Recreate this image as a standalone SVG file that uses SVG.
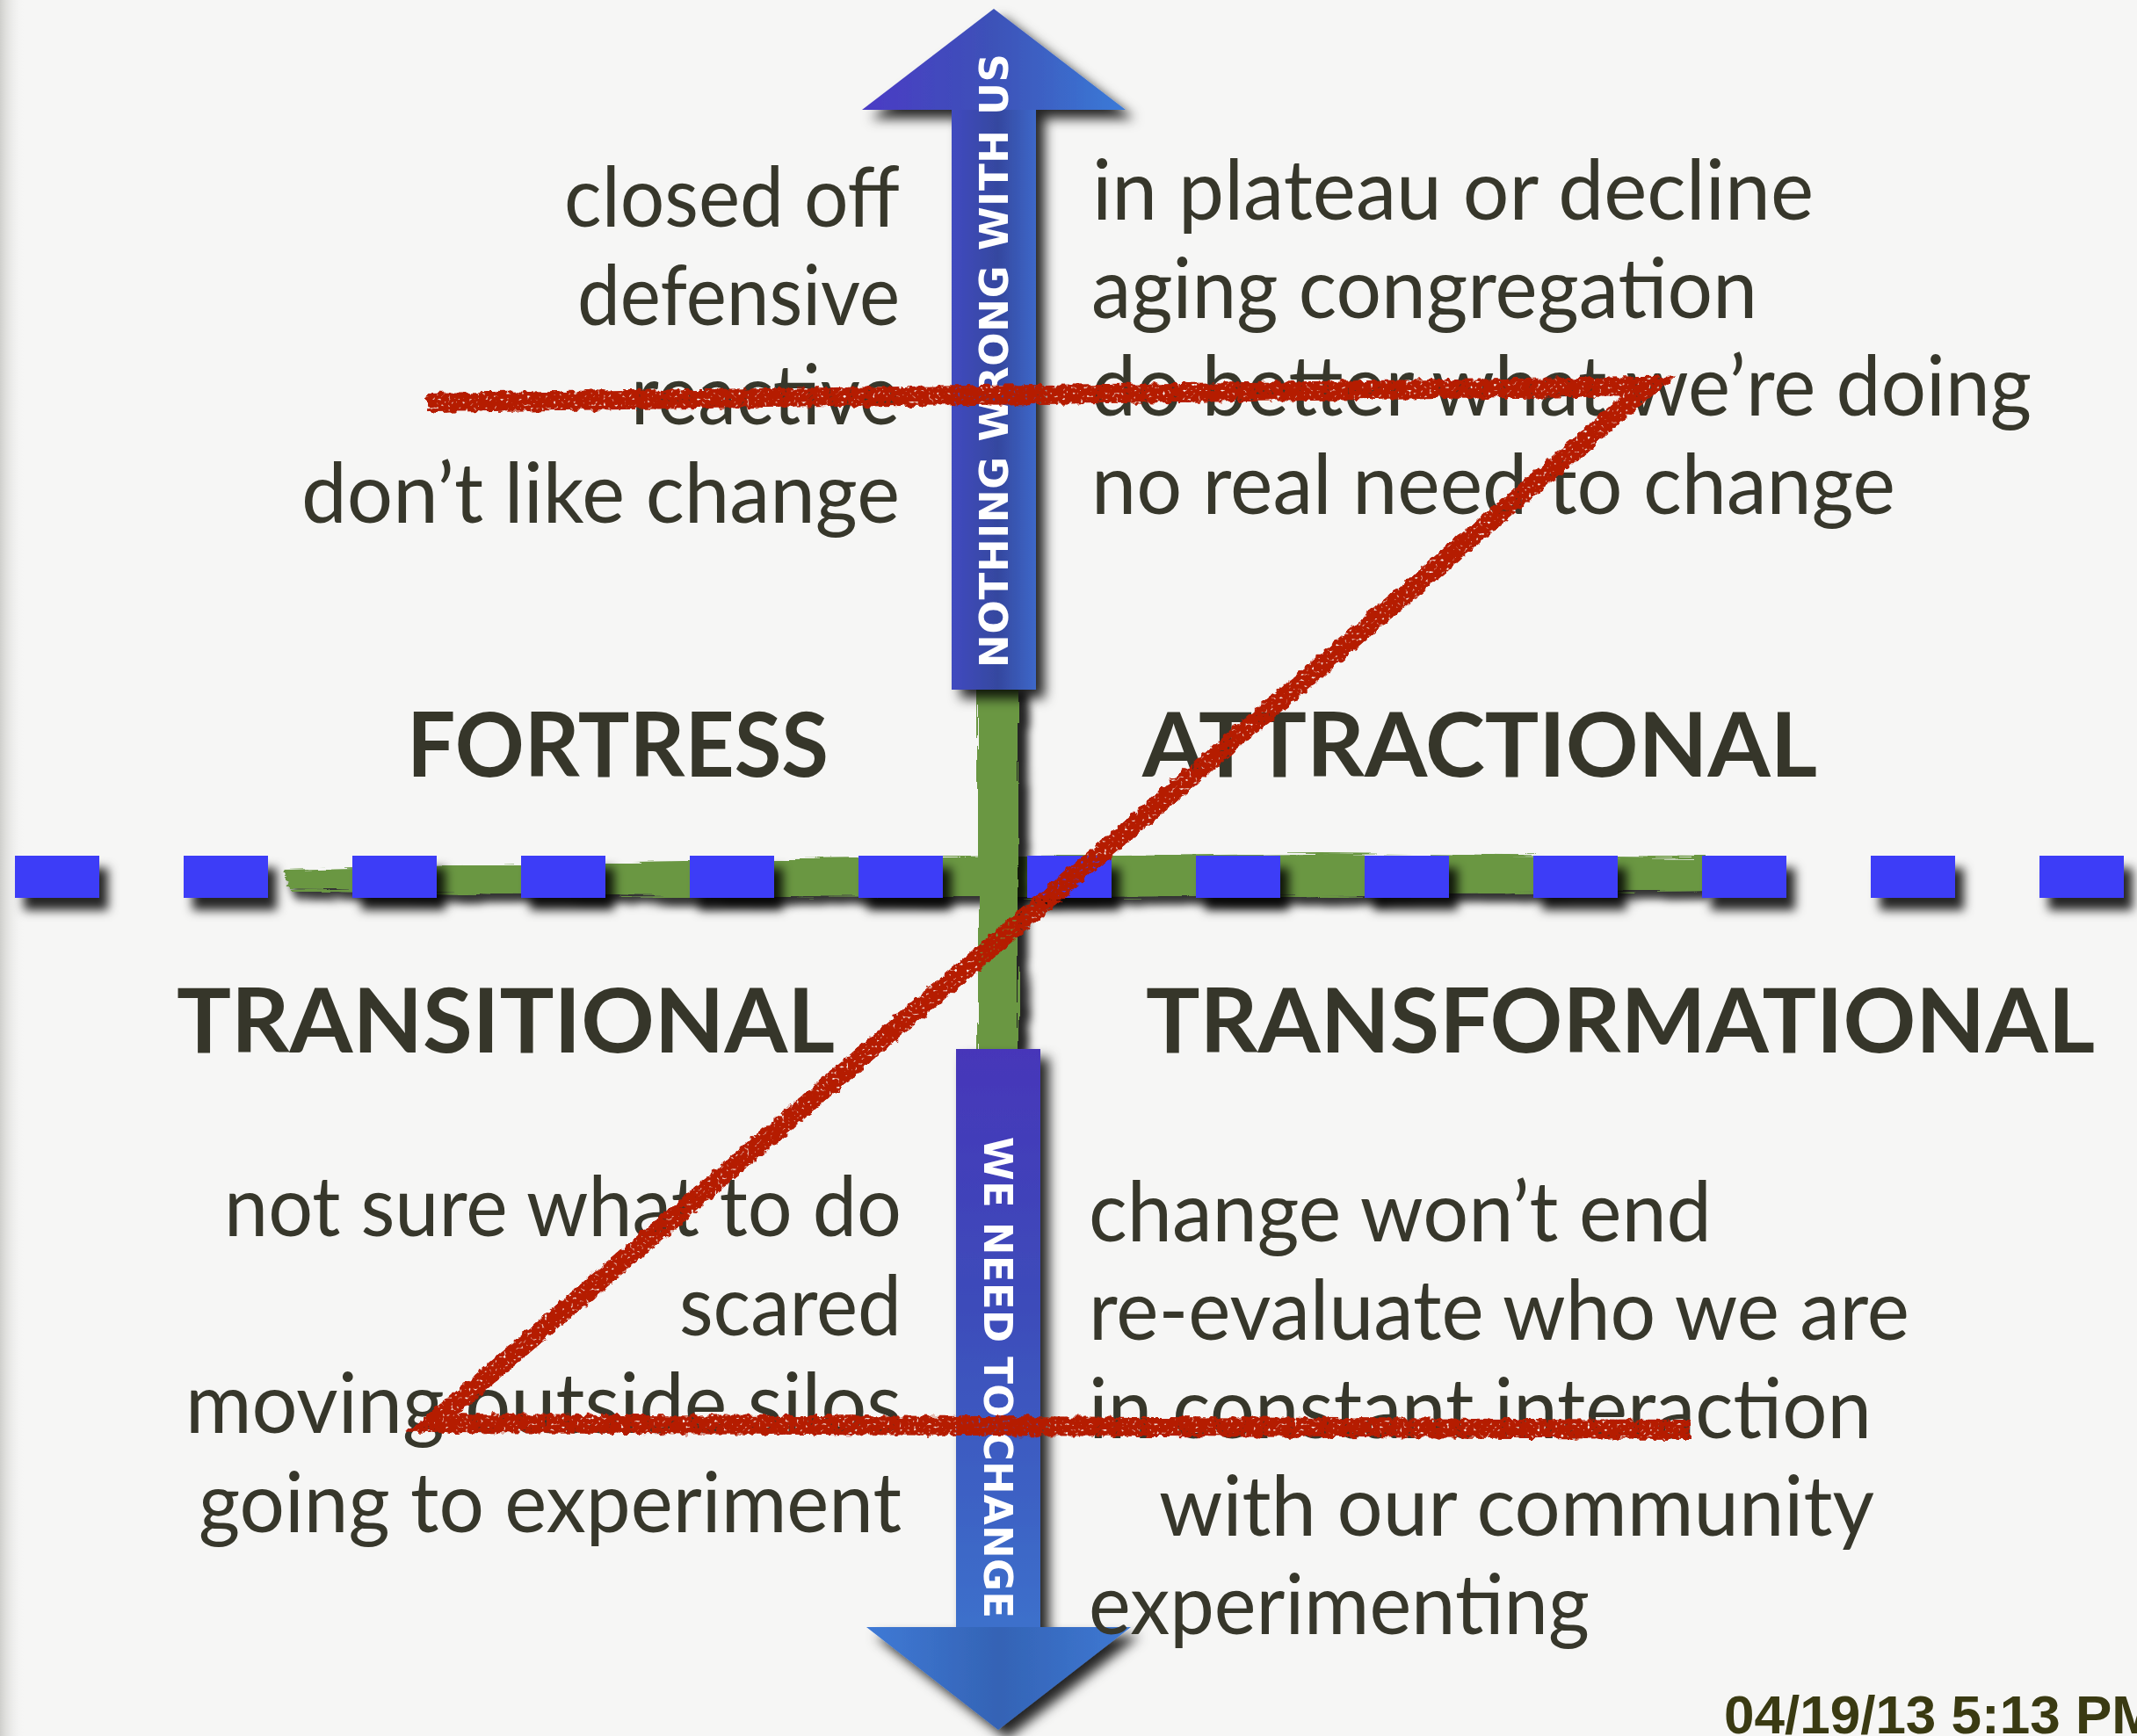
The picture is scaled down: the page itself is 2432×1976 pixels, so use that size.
<svg xmlns="http://www.w3.org/2000/svg" width="2432" height="1976" viewBox="0 0 2432 1976">
  <style>
    .body { font-family: Lato, "Open Sans", sans-serif; font-size: 95px; fill: #37372b; }
    .head { font-family: Lato, "Open Sans", sans-serif; font-size: 101px; font-weight: 700; fill: #36362a; }
    .arrowtxt { font-family: "DejaVu Sans", sans-serif; font-size: 45px; font-weight: 700; fill: #ffffff; }
    .dash { fill: #3e3cf7; }
    .green { fill: #6a9743; }
    .red { fill: none; stroke: #b51a04; stroke-width: 22; stroke-linejoin: miter; stroke-miterlimit: 6; }
    .stamp { font-family: "Liberation Sans", Arial, sans-serif; font-size: 62px; font-weight: 700; fill: #3a3a12; }
  </style>
  <defs>
    <linearGradient id="edge" x1="0" y1="0" x2="1" y2="0">
      <stop offset="0" stop-color="#cfcfcc"/>
      <stop offset="1" stop-color="#f6f6f5" stop-opacity="0"/>
    </linearGradient>
    <linearGradient id="upHead" x1="981" y1="0" x2="1281" y2="0" gradientUnits="userSpaceOnUse">
      <stop offset="0" stop-color="#4a3bc5"/>
      <stop offset="0.5" stop-color="#3d52b8"/>
      <stop offset="1" stop-color="#3a7bd8"/>
    </linearGradient>
    <linearGradient id="upShaft" x1="1083" y1="0" x2="1179" y2="0" gradientUnits="userSpaceOnUse">
      <stop offset="0" stop-color="#414bc0"/>
      <stop offset="0.55" stop-color="#35479f"/>
      <stop offset="1" stop-color="#3d68c9"/>
    </linearGradient>
    <linearGradient id="downShaft" x1="0" y1="1194" x2="0" y2="1852" gradientUnits="userSpaceOnUse">
      <stop offset="0" stop-color="#4636b9"/>
      <stop offset="0.45" stop-color="#3d4cba"/>
      <stop offset="1" stop-color="#3c70cb"/>
    </linearGradient>
    <linearGradient id="downHead" x1="986" y1="0" x2="1287" y2="0" gradientUnits="userSpaceOnUse">
      <stop offset="0" stop-color="#3f7ad6"/>
      <stop offset="0.5" stop-color="#3463b5"/>
      <stop offset="1" stop-color="#3e79d4"/>
    </linearGradient>
    <filter id="arrowShadow" x="-30%" y="-10%" width="160%" height="120%">
      <feDropShadow dx="10" dy="10" stdDeviation="7" flood-color="#000" flood-opacity="0.85"/>
    </filter>
    <filter id="dashShadow" x="-30%" y="-40%" width="160%" height="200%">
      <feDropShadow dx="10" dy="14" stdDeviation="6" flood-color="#000" flood-opacity="0.85"/>
    </filter>
    <filter id="roughH" filterUnits="userSpaceOnUse" x="0" y="900" width="2432" height="200">
      <feTurbulence type="fractalNoise" baseFrequency="0.012 0.3" numOctaves="3" seed="4" result="n"/>
      <feDisplacementMap in="SourceGraphic" in2="n" scale="10" xChannelSelector="R" yChannelSelector="G" result="d"/>
      <feGaussianBlur in="d" stdDeviation="5" result="b"/>
      <feOffset in="b" dx="6" dy="10" result="o"/>
      <feFlood flood-color="#000" flood-opacity="0.8"/>
      <feComposite in2="o" operator="in" result="s"/>
      <feMerge><feMergeNode in="s"/><feMergeNode in="d"/></feMerge>
    </filter>
    <filter id="roughV" filterUnits="userSpaceOnUse" x="1000" y="700" width="300" height="600">
      <feTurbulence type="fractalNoise" baseFrequency="0.3 0.012" numOctaves="3" seed="9" result="n"/>
      <feDisplacementMap in="SourceGraphic" in2="n" scale="8" xChannelSelector="R" yChannelSelector="G" result="d"/>
      <feGaussianBlur in="d" stdDeviation="5" result="b"/>
      <feOffset in="b" dx="12" dy="6" result="o"/>
      <feFlood flood-color="#000" flood-opacity="0.85"/>
      <feComposite in2="o" operator="in" result="s"/>
      <feMerge><feMergeNode in="s"/><feMergeNode in="d"/></feMerge>
    </filter>
    <filter id="crayon" filterUnits="userSpaceOnUse" x="0" y="0" width="2432" height="1976">
      <feTurbulence type="fractalNoise" baseFrequency="0.12 0.12" numOctaves="2" seed="3" result="n"/>
      <feDisplacementMap in="SourceGraphic" in2="n" scale="9" xChannelSelector="R" yChannelSelector="G" result="d"/>
      <feTurbulence type="fractalNoise" baseFrequency="0.3" numOctaves="1" seed="11" result="n2"/>
      <feColorMatrix in="n2" type="matrix" values="0 0 0 0 0  0 0 0 0 0  0 0 0 0 0  7 0 0 0 -1.6" result="m"/>
      <feComposite in="d" in2="m" operator="in"/>
    </filter>
  </defs>

  <g id="background">
    <rect x="0" y="0" width="2432" height="1976" fill="#f6f6f5"/>
    <rect x="0" y="0" width="28" height="1976" fill="url(#edge)"/>
  </g>

  <g id="connectors">
    <g id="green-cross" class="green">
      <path filter="url(#roughH)" d="M 322 990 L 600 983 L 900 978 L 1160 975 L 1500 972 L 1940 976 L 1940 1014 L 1500 1020 L 1160 1022 L 900 1021 L 600 1018 L 330 1013 Z"/>
      <rect filter="url(#roughV)" x="1113" y="780" width="46" height="416"/>
    </g>
    <g id="dashed-axis" class="dash" filter="url(#dashShadow)">
      <rect x="17" y="974" width="96" height="48"/>
      <rect x="209" y="974" width="96" height="48"/>
      <rect x="401" y="974" width="96" height="48"/>
      <rect x="593" y="974" width="96" height="48"/>
      <rect x="785" y="974" width="96" height="48"/>
      <rect x="977" y="974" width="96" height="48"/>
      <rect x="1169" y="974" width="96" height="48"/>
      <rect x="1361" y="974" width="96" height="48"/>
      <rect x="1553" y="974" width="96" height="48"/>
      <rect x="1745" y="974" width="96" height="48"/>
      <rect x="1937" y="974" width="96" height="48"/>
      <rect x="2129" y="974" width="96" height="48"/>
      <rect x="2321" y="974" width="96" height="48"/>
    </g>
  </g>

  <g id="arrow-up" filter="url(#arrowShadow)">
    <rect x="1083" y="120" width="96" height="665" fill="url(#upShaft)"/>
    <polygon points="1131,10 1281,125 981,125" fill="url(#upHead)"/>
    <text class="arrowtxt" transform="translate(1147,760) rotate(-90)" x="0" y="0" textLength="699" lengthAdjust="spacing">NOTHING WRONG WITH US</text>
  </g>

  <g id="arrow-down" filter="url(#arrowShadow)">
    <rect x="1088" y="1194" width="96" height="662" fill="url(#downShaft)"/>
    <polygon points="986,1852 1287,1852 1136,1969" fill="url(#downHead)"/>
    <text class="arrowtxt" transform="translate(1120,1294) rotate(90)" x="0" y="0" textLength="548" lengthAdjust="spacing">WE NEED TO CHANGE</text>
  </g>

  <g id="fortress">
    <text class="head" x="463" y="884" textLength="480" lengthAdjust="spacingAndGlyphs">FORTRESS</text>
    <text class="body" x="642" y="258" textLength="382" lengthAdjust="spacingAndGlyphs">closed off</text>
    <text class="body" x="657" y="370" textLength="367" lengthAdjust="spacingAndGlyphs">defensive</text>
    <text class="body" x="718" y="483" textLength="306" lengthAdjust="spacingAndGlyphs">reactive</text>
    <text class="body" x="343" y="595" textLength="681" lengthAdjust="spacingAndGlyphs">don’t like change</text>
  </g>

  <g id="attractional">
    <text class="head" x="1300" y="884" textLength="768" lengthAdjust="spacingAndGlyphs">ATTRACTIONAL</text>
    <text class="body" x="1243" y="250" textLength="821" lengthAdjust="spacingAndGlyphs">in plateau or decline</text>
    <text class="body" x="1242" y="362" textLength="758" lengthAdjust="spacingAndGlyphs">aging congregation</text>
    <text class="body" x="1242" y="473" textLength="1070" lengthAdjust="spacingAndGlyphs">do better what we’re doing</text>
    <text class="body" x="1242" y="585" textLength="915" lengthAdjust="spacingAndGlyphs">no real need to change</text>
  </g>

  <g id="transitional">
    <text class="head" x="201" y="1198" textLength="749" lengthAdjust="spacingAndGlyphs">TRANSITIONAL</text>
    <text class="body" x="255" y="1407" textLength="771" lengthAdjust="spacingAndGlyphs">not sure what to do</text>
    <text class="body" x="773" y="1520" textLength="253" lengthAdjust="spacingAndGlyphs">scared</text>
    <text class="body" x="211" y="1631" textLength="815" lengthAdjust="spacingAndGlyphs">moving outside silos</text>
    <text class="body" x="226" y="1744" textLength="800" lengthAdjust="spacingAndGlyphs">going to experiment</text>
  </g>

  <g id="transformational">
    <text class="head" x="1304" y="1198" textLength="1080" lengthAdjust="spacingAndGlyphs">TRANSFORMATIONAL</text>
    <text class="body" x="1239" y="1413" textLength="709" lengthAdjust="spacingAndGlyphs">change won’t end</text>
    <text class="body" x="1239" y="1525" textLength="934" lengthAdjust="spacingAndGlyphs">re-evaluate who we are</text>
    <text class="body" x="1239" y="1637" textLength="891" lengthAdjust="spacingAndGlyphs">in constant interaction</text>
    <text class="body" x="1319" y="1748" textLength="814" lengthAdjust="spacingAndGlyphs">with our community</text>
    <text class="body" x="1239" y="1860" textLength="570" lengthAdjust="spacingAndGlyphs">experimenting</text>
  </g>

  <g id="z-strike">
    <path class="red" filter="url(#crayon)" d="M 486 458 L 1876 440 L 492 1620 L 1923 1627"/>
  </g>

  <g id="timestamp">
    <text class="stamp" x="1962" y="1973">04/19/13 5:13 PM</text>
  </g>
</svg>
